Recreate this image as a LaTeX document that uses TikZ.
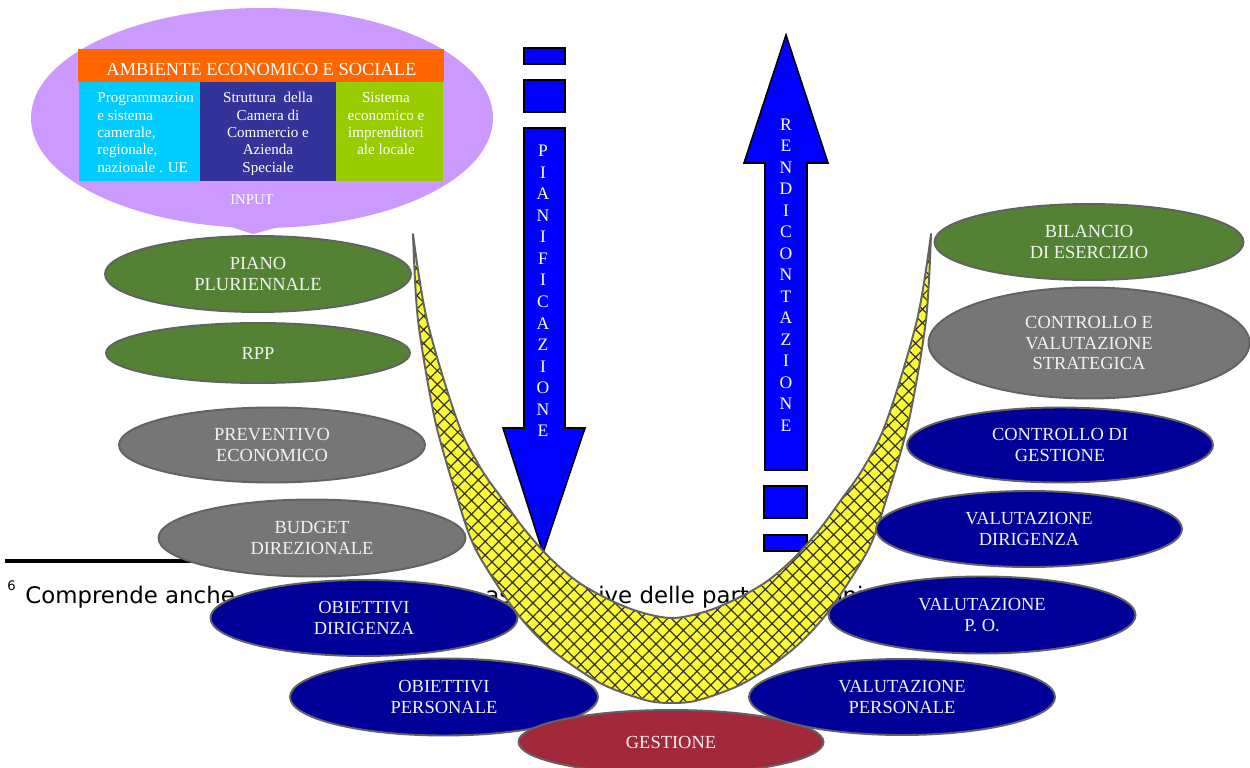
\documentclass[tikz,border=0pt]{standalone}
\usepackage{fontspec}
\setmainfont{Liberation Serif}
\newfontfamily\notefont{DejaVu Sans}
\usetikzlibrary{shapes.geometric,patterns.meta}
\definecolor{bubblelilac}{HTML}{CC99FF}
\definecolor{headorange}{HTML}{FF6600}
\definecolor{cellcyan}{HTML}{00CCFF}
\definecolor{cellindigo}{HTML}{333399}
\definecolor{celllime}{HTML}{99CC00}
\definecolor{ovgreen}{HTML}{548235}
\definecolor{ovgrey}{HTML}{767676}
\definecolor{ovnavy}{HTML}{000099}
\definecolor{ovred}{HTML}{A3293A}
\definecolor{ovedge}{HTML}{626262}
\definecolor{ovtext}{HTML}{F2F2F2}
\definecolor{flowblue}{HTML}{0000FF}
\definecolor{bandyellow}{HTML}{FAFA35}
\begin{document}
\begin{tikzpicture}[x=0.02cm, y=-0.02cm,
  dims/.style 2 args={minimum width=#1*0.02cm, minimum height=#2*0.02cm},
  oval/.style={ellipse, draw=ovedge, line width=1.1pt, inner sep=0pt, text=ovtext,
    align=center, font=\fontsize{10.5}{11.7}\selectfont},
  greenoval/.style={oval, fill=ovgreen},
  greyoval/.style={oval, fill=ovgrey},
  navyoval/.style={oval, fill=ovnavy},
  redoval/.style={oval, fill=ovred},
  blockarrow/.style={draw=black, line width=0.9pt, fill=flowblue, line join=miter},
  letterstack/.style={text=white, align=center, inner sep=0pt,
    font=\fontsize{10}{12.25}\selectfont},
  celltext/.style={inner sep=0pt, text=white, font=\fontsize{8.6}{9.85}\selectfont},
  notetext/.style={inner sep=0pt, anchor=base west, font=\notefont\fontsize{13}{15}\selectfont}]
\useasboundingbox (0,0) rectangle (1250,767);

% footnote rule and footnote text (partly covered by the diagram)
\draw[line width=2.2pt] (5,561) -- (260,561);
\node[inner sep=0pt, anchor=base west, font=\notefont\fontsize{7.5}{9}\selectfont] (fnmark) at (7,590) {6};
\node[notetext] (fnA) at (25,603) {Comprende anche};
\node[notetext] (fnB) at (485,603) {as};
\node[notetext] (fnC) at (598,603) {ive delle partecipazioni};

% input bubble
\node[ellipse, fill=bubblelilac, inner sep=0pt, dims={462}{220}] (bubble) at (262,118) {};
\fill[bubblelilac] (222,224) -- (253,234) -- (290,224) -- cycle;

% environment table
\fill[headorange] (78,49) rectangle (444,82);
\begin{scope}
  \clip (78,49) rectangle (444,74.5);
  \node[inner sep=0pt, anchor=base, text=white, font=\fontsize{10.5}{12}\selectfont] (headtxt) at (261.5,76) {AMBIENTE ECONOMICO E SOCIALE};
\end{scope}
\fill[cellcyan] (79,82) rectangle (200,181);
\fill[cellindigo] (200,82) rectangle (336,181);
\fill[celllime] (336,82) rectangle (443,181);
\begin{scope}
  \clip (79,82) rectangle (443,174);
  \node[celltext, anchor=base west] (cellA) at (97,103)
    {\parbox[t]{2.3cm}{\raggedright Programmazion\\e sistema\\camerale,\\regionale,\\nazionale . UE}};
  \node[celltext, anchor=base] (cellB) at (268,103)
    {\parbox[t]{2.6cm}{\centering Struttura\ \ della\\Camera di\\Commercio e\\Azienda\\Speciale}};
  \node[celltext, anchor=base] (cellC) at (386,103)
    {\parbox[t]{2.1cm}{\centering Sistema\\economico e\\imprenditori\\ale locale}};
\end{scope}
\node[inner sep=0pt, text=white, font=\fontsize{8.4}{10}\selectfont] (input) at (252,199.5) {INPUT};

% planning arrow (downwards)
\draw[blockarrow] (524,48) rectangle (565,64);
\draw[blockarrow] (524,80) rectangle (565,112);
\draw[blockarrow] (524,128) -- (565,128) -- (565,428) -- (585,428) -- (543,553)
  -- (503,428) -- (524,428) -- cycle;
\node[letterstack] (plan) at (543,291) {P\\I\\A\\N\\I\\F\\I\\C\\A\\Z\\I\\O\\N\\E};

% reporting arrow (upwards)
\draw[blockarrow] (765,470) -- (765,163) -- (744,163) -- (786,35) -- (828,163)
  -- (807,163) -- (807,470) -- cycle;
\draw[blockarrow] (764,486) rectangle (807,518);
\draw[blockarrow] (764,535) rectangle (807,551);
\node[letterstack] (report) at (786,275) {R\\E\\N\\D\\I\\C\\O\\N\\T\\A\\Z\\I\\O\\N\\E};

% hatched U band
\path[fill=bandyellow,
  postaction={pattern={Hatch[angle=45,distance=5.5pt,line width=0.7pt]}, pattern color=black!80},
  postaction={draw=ovedge, line width=1.1pt, line join=round}]
  plot[smooth, tension=0.5] coordinates {(413,234) (418,320) (435,420) (457,497) (476,550)
    (516,612) (552,650) (600,683) (645,700) (672,703) (699,700) (744,683) (792,650)
    (828,612) (868,550) (887,497) (909,420) (926,320) (931,234)}
  -- plot[smooth, tension=0.55] coordinates {(931,234) (917,320) (887,420) (864,467)
    (841,500) (819,530) (794,558) (766,582) (734,600) (704,612) (672,618) (640,612)
    (610,600) (578,582) (550,558) (525,530) (503,500) (480,467) (457,420) (427,320)
    (413,234)}
  -- cycle;

% planning side
\node[greenoval, dims={306}{76}] (piano) at (258,274) {PIANO\\PLURIENNALE};
\node[greenoval, dims={304}{60}] (rpp) at (258,353) {RPP};
\node[greyoval, dims={306}{75}] (prev) at (272,445) {PREVENTIVO\\ECONOMICO};
\node[greyoval, dims={307}{77}] (budget) at (312,538) {BUDGET\\DIREZIONALE};
\node[navyoval, dims={307}{76}] (obdir) at (364,618) {OBIETTIVI\\DIRIGENZA};
\node[navyoval, dims={308}{77}] (obpers) at (444,697) {OBIETTIVI\\PERSONALE};
\node[redoval, dims={305}{64}] (gest) at (671,742) {GESTIONE};

% reporting side
\node[greenoval, dims={309}{76}] (bil) at (1089,242) {BILANCIO\\DI ESERCIZIO};
\node[greyoval, dims={321}{111}] (cvs) at (1089,343) {CONTROLLO E\\VALUTAZIONE\\STRATEGICA};
\node[navyoval, dims={306}{75}] (cdg) at (1060,445) {CONTROLLO DI\\GESTIONE};
\node[navyoval, dims={306}{76}] (vdir) at (1029,529) {VALUTAZIONE\\DIRIGENZA};
\node[navyoval, dims={307}{77}] (vpo) at (982,615) {VALUTAZIONE\\P. O.};
\node[navyoval, dims={306}{76}] (vpers) at (902,697) {VALUTAZIONE\\PERSONALE};
\end{tikzpicture}
\end{document}
